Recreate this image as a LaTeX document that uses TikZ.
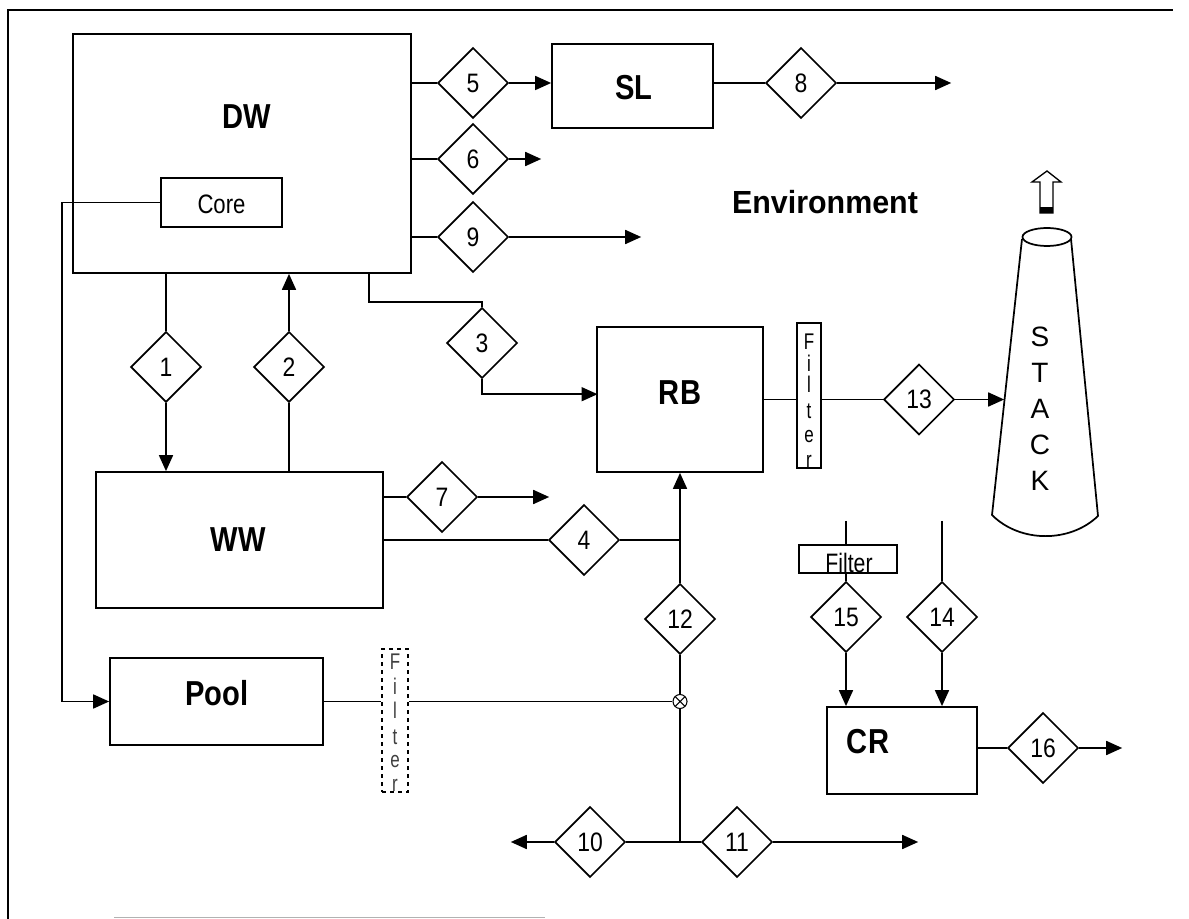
\documentclass[tikz,border=0pt]{standalone}
\usepackage{fontspec}
\setmainfont{Liberation Sans}
\usetikzlibrary{arrows.meta,shapes.geometric,positioning,calc}
\tikzset{
  blk/.style={draw, rectangle, inner sep=0pt},
  gate/.style={draw, diamond, inner sep=0pt, minimum width=53pt, minimum height=53pt, font=\fontsize{20}{20}\selectfont},
  lbl/.style={font=\fontsize{26}{26}\selectfont\bfseries, inner sep=0pt, xscale=0.84},
  txt/.style={font=\fontsize{20}{20}\selectfont, inner sep=0pt, xscale=0.83},
  ltr/.style={font=\fontsize{17}{17}\selectfont, inner sep=0pt, xscale=0.75},
  flow/.style={-{Triangle[length=12pt,width=10.5pt]}}
}

\begin{document}
\begin{tikzpicture}[x=0.75pt,y=-0.75pt,line width=1.3pt]
\useasboundingbox (0,0) rectangle (1189,919);
% frame
\draw (8,919) -- (8,10) -- (1173,10);
\draw[black!30, line width=0.6pt] (114,917) -- (545,917);

% boxes
\node[blk, minimum width=253.5pt, minimum height=179.25pt] (dw) at (242,153.5) {};
\node[lbl] (dwtxt) at (247,117) {DW};
\node[blk, minimum width=90.75pt, minimum height=36.75pt] (core) at (221.5,202.5) {};
\node[txt] (coretxt) at (221.5,204) {Core};
\node[blk, minimum width=120.75pt, minimum height=63pt] (sl) at (632.5,86) {};
\node[lbl] (sltxt) at (634,88) {SL};
\node[blk, minimum width=124.5pt, minimum height=108.75pt] (rb) at (680,399.5) {};
\node[lbl] (rbtxt) at (680,393) {RB};
\node[blk, minimum width=215.25pt, minimum height=102pt] (ww) at (239.5,540) {};
\node[lbl] (wwtxt) at (238,540) {WW};
\node[blk, minimum width=159.75pt, minimum height=65.25pt] (pool) at (216.5,701.5) {};
\node[lbl] (pooltxt) at (217,693) {Pool};
\node[blk, minimum width=112.5pt, minimum height=65.25pt] (cr) at (902,750.5) {};
\node[lbl] (crtxt) at (868,742) {CR};
\node[font=\fontsize{24}{24}\selectfont\bfseries, inner sep=0pt, xscale=0.95] (env) at (825,202) {Environment};

% filters
\node[blk, minimum width=18pt, minimum height=108.75pt] (rfilter) at (809,395.5) {};
\foreach \c/\y in {F/342,i/363,l/384,t/411,e/437,r/461}
  \node[ltr] (rf\c) at (809,\y) {\c};
\node[blk, dashed, minimum width=19.5pt, minimum height=107.25pt] (pfilter) at (395,720.5) {};
\foreach \c/\y in {F/662,i/686,l/710,t/737,e/762,r/785}
  \node[ltr, black!75] (pf\c) at (395,\y) {\c};
\node[blk, minimum width=73.5pt, minimum height=21pt] (cfilter) at (848,559) {};
\node[txt, xscale=0.96] (cftxt) at (849,563) {Filter};

% diamonds
\foreach \n/\x/\y in {1/166/367,2/289/367,3/482/343,5/473/83,6/473/159,9/473/237,8/801/83,
  7/442/497,4/584/540,12/680/619,13/919/399.5,15/846/617,14/942/617,16/1043/748,10/590/842,11/737/842}
  \node[gate] (d\n) at (\x,\y) {\scalebox{0.86}[1]{\n}};

% junction
\node[draw, circle, inner sep=0pt, minimum size=10.5pt, line width=0.8pt,
  path picture={\draw (path picture bounding box.north west) -- (path picture bounding box.south east)
    (path picture bounding box.north east) -- (path picture bounding box.south west);}] (mix) at (680,701.5) {};

% stack
\draw (1022,239) -- (992,515) .. controls (1020,543) and (1070,543) .. (1098,516) -- (1071,239);
\draw (1047,237) ellipse [x radius=24.5, y radius=9];
\foreach \c [count=\i] in {S,T,A,C,K}
  \node[font=\fontsize{21}{21}\selectfont, inner sep=0pt] (stk\i) at (1040,301+36*\i) {\c};
\draw[line width=1pt] (1047,171) -- (1061,182) -- (1053,182) -- (1053,213) -- (1040,213)
  -- (1040,182) -- (1032,182) -- cycle;
\fill (1040,207) rectangle (1053,213);

% DW and WW
\draw (d1.north |- dw.south) -- (d1.north);
\draw[flow] (d1.south) -- (d1.south |- ww.north);
\draw (d2.south |- ww.north) -- (d2.south);
\draw[flow] (d2.north) -- (d2.north |- dw.south);
\coordinate (tap3) at (369,273);
\draw (tap3) -- ++(0,29) -| (d3.north);
\draw[flow] (d3.south) -- ++(0,15) -- ++(115.5,0);
\foreach \d in {d5,d6,d9}
  \draw (\d.west -| dw.east) -- (\d.west);
\draw[flow] (d5.east) -- (d5.east -| sl.west);
\draw[flow] (d6.east) -- ++(32,0);
\draw[flow] (d9.east) -- ++(132,0);
\draw (d8.west -| sl.east) -- (d8.west);
\draw[flow] (d8.east) -- ++(114,0);
\draw (d7.west -| ww.east) -- (d7.west);
\draw[flow] (d7.east) -- ++(71,0);
\draw (d4.west -| ww.east) -- (d4.west);
\draw (d4.east) -- (d4.east -| d12.north);
\draw[flow] (d12.north) -- (d12.north |- rb.south);
\draw (d12.south) -- (mix.north);
\draw (mix.south) -- (mix.south |- d10.east);
\draw (d10.east) -- (d11.west);
\draw[flow] (d10.west) -- ++(-43,0);
\draw[flow] (d11.east) -- ++(145,0);

% pool
\draw[flow] (core.west) -- ++(-98,0) |- (pool.west);
\draw (pool.east) -- (pool.east -| pfilter.west);
\draw (pool.east -| pfilter.east) -- (mix.west);

% RB to stack
\draw (rb.east) -- (rb.east -| rfilter.west);
\draw (rb.east -| rfilter.east) -- (d13.west);
\draw[flow] (d13.east) -- ++(49,0);

% CR
\coordinate (in15) at (846,521);
\coordinate (in14) at (942,521);
\draw (in15) -- (in15 |- cfilter.north);
\draw (d15.north |- cfilter.south) -- (d15.north);
\draw[flow] (d15.south) -- (d15.south |- cr.north);
\draw (in14) -- (d14.north);
\draw[flow] (d14.south) -- (d14.south |- cr.north);
\draw (d16.west -| cr.east) -- (d16.west);
\draw[flow] (d16.east) -- ++(43,0);
\end{tikzpicture}
\end{document}
